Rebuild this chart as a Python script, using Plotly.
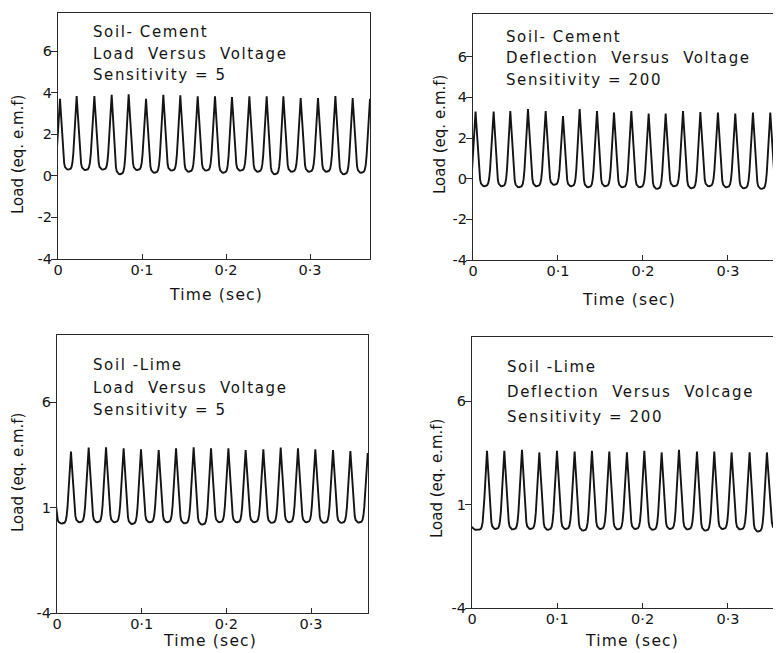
import plotly.graph_objects as go

# browser page places the figure 8px from the top-left corner (default body margin)
OFF = 8
W, H = 781 - OFF, 653 - OFF

def px(x):
    return (x - OFF) / W

def py(y):
    return 1 - (y - OFF) / H

# ---------------- data ----------------
# Soil-Cement, load versus voltage (sensitivity 5)
tl_peak_t = [-0.018, 0.0024, 0.0222, 0.0433, 0.0639, 0.0841, 0.1048, 0.1254, 0.1456, 0.1663,
             0.1869, 0.2071, 0.2278, 0.2484, 0.2683, 0.2889, 0.3095, 0.3302, 0.3508, 0.3714]
tl_peak_v = [3.8, 3.7, 3.84, 3.84, 3.9, 3.92, 3.7, 3.9, 3.87, 3.82,
             3.82, 3.79, 3.82, 3.82, 3.82, 3.74, 3.74, 3.84, 3.74, 3.7]
tl_trough_v = [0.3, 0.3, 0.28, 0.3, 0.08, 0.28, 0.15, 0.25, 0.2, 0.25,
               0.15, 0.25, 0.2, 0.08, 0.2, 0.2, 0.2, 0.08, 0.15]

# Soil-Cement, deflection versus voltage (sensitivity 200)
tr_peak_t = [-0.0174, 0.003, 0.0243, 0.0439, 0.0647, 0.0855, 0.1059, 0.1255, 0.1459, 0.1659,
             0.1863, 0.2067, 0.2267, 0.2471, 0.2675, 0.2882, 0.3086, 0.3294, 0.3498, 0.3702]
tr_peak_v = [3.3, 3.3, 3.3, 3.33, 3.42, 3.33, 3.08, 3.42, 3.33, 3.25,
             3.33, 3.2, 3.2, 3.33, 3.28, 3.25, 3.2, 3.25, 3.25, 3.25]
tr_trough_v = [-0.35, -0.37, -0.37, -0.42, -0.37, -0.3, -0.37, -0.42, -0.37, -0.42,
               -0.42, -0.5, -0.37, -0.47, -0.37, -0.42, -0.47, -0.5, -0.42]

# Soil-Lime, load versus voltage (sensitivity 5)
bl_peak_t = [-0.0042, 0.0165, 0.0374, 0.0579, 0.0787, 0.0992, 0.1201, 0.1406, 0.1614, 0.1819,
             0.2024, 0.2228, 0.2437, 0.2642, 0.2846, 0.3051, 0.326, 0.3465, 0.367]
bl_peak_v = [2.06, 3.66, 3.85, 3.87, 3.82, 3.77, 3.74, 3.82, 3.87, 3.82,
             3.82, 3.74, 3.77, 3.85, 3.82, 3.77, 3.74, 3.69, 3.6]
bl_trough_v = [0.25, 0.31, 0.31, 0.31, 0.23, 0.31, 0.31, 0.26, 0.2, 0.31,
               0.31, 0.31, 0.28, 0.31, 0.31, 0.28, 0.28, 0.3]

# Soil-Lime, deflection versus voltage (sensitivity 200)
br_peak_t = [-0.0028, 0.0176, 0.0379, 0.0586, 0.0789, 0.0996, 0.1203, 0.1406, 0.1609, 0.1816,
             0.202, 0.2223, 0.2426, 0.2637, 0.284, 0.3043, 0.3254, 0.3457, 0.369]
br_peak_v = [0.0, 3.6, 3.6, 3.65, 3.52, 3.6, 3.56, 3.6, 3.56, 3.52,
             3.6, 3.52, 3.65, 3.56, 3.56, 3.52, 3.52, 3.52, 3.55]
br_trough_v = [-0.22, -0.18, -0.2, -0.18, -0.22, -0.18, -0.26, -0.18, -0.2, -0.18,
               -0.22, -0.18, -0.2, -0.26, -0.18, -0.2, -0.3, -0.2]

x_tick_vals = [0, 0.1, 0.2, 0.3]
x_tick_text = ["0", "0·1", "0·2", "0·3"]
top_y_tick_vals = [-4, -2, 0, 2, 4, 6]
top_y_tick_text = ["-4", "-2", "0", "2", "4", "6"]
bot_y_tick_vals = [-4, 1, 6]
bot_y_tick_text = ["-4", "1", "6"]

x_title = "Time (sec)"
y_title = "Load (eq. e.m.f)"

tl_text = ["Soil- Cement", "Load  Versus  Voltage", "Sensitivity = 5"]
tr_text = ["Soil- Cement", "Deflection  Versus  Voltage", "Sensitivity = 200"]
bl_text = ["Soil -Lime", "Load  Versus  Voltage", "Sensitivity = 5"]
br_text = ["Soil -Lime", "Deflection  Versus  Volcage", "Sensitivity = 200"]

# pulse outline within one cycle (style of the trace: sharp peak, rounded trough)
shape_phase = [0, .04, .08, .12, .16, .20, .25, .30, .36, .43, .50, .57, .64, .70, .75, .80, .85, .90, .95, 1.0]
shape_frac = [1, .85, .68, .51, .35, .21, .09, .035, .012, .002, 0, .002, .012, .04, .10, .22, .40, .60, .80, 1]


def waveform(peak_t, peak_v, trough_v):
    t, v = [], []
    for k in range(len(peak_t) - 1):
        t0, t1 = peak_t[k], peak_t[k + 1]
        for ph, s in zip(shape_phase[:-1], shape_frac[:-1]):
            p = peak_v[k] if ph <= 0.5 else peak_v[k + 1]
            t.append(t0 + ph * (t1 - t0))
            v.append(trough_v[k] + (p - trough_v[k]) * s)
    t.append(peak_t[-1])
    v.append(peak_v[-1])
    return t, v


FONT = "DejaVu Sans"
INK = "#141414"


def spaced(s, ls):
    return '<span style="letter-spacing:%spx">%s</span>' % (ls, s)


panels = [
    dict(data=(tl_peak_t, tl_peak_v, tl_trough_v), box=(58, 370, 13, 259), xr=[0, 0.3714],
         yr=[-4, 7.83], yt=(top_y_tick_vals, top_y_tick_text), right=True,
         text=tl_text, tx=91, ty=[32, 54, 75], xl=(216, 295), yl=(18, 155)),
    dict(data=(tr_peak_t, tr_peak_v, tr_trough_v), box=(473, 781, 14, 260), xr=[0, 0.3624],
         yr=[-4, 8.1], yt=(top_y_tick_vals, top_y_tick_text), right=False,
         text=tr_text, tx=504, ty=[37, 58, 80], xl=(629, 300), yl=(440, 135)),
    dict(data=(bl_peak_t, bl_peak_v, bl_trough_v), box=(57, 368, 335, 613), xr=[0, 0.3673],
         yr=[-4, 9.2], yt=(bot_y_tick_vals, bot_y_tick_text), right=True,
         text=bl_text, tx=91, ty=[365, 388, 410], xl=(210, 641), yl=(18, 473)),
    dict(data=(br_peak_t, br_peak_v, br_trough_v), box=(472, 781, 337, 608), xr=[0, 0.3622],
         yr=[-4, 9.1], yt=(bot_y_tick_vals, bot_y_tick_text), right=False,
         text=br_text, tx=505, ty=[367, 392, 417], xl=(632, 641), yl=(437, 478)),
]

fig = go.Figure()
layout = dict(width=W, height=H, margin=dict(l=0, r=0, t=0, b=0, autoexpand=False),
              template="none",
              paper_bgcolor="white", plot_bgcolor="white", showlegend=False,
              font=dict(family=FONT, color=INK, size=14))
annotations = []

for i, p in enumerate(panels, start=1):
    sfx = "" if i == 1 else str(i)
    t, v = waveform(*p["data"])
    fig.add_trace(go.Scatter(x=t, y=v, mode="lines", xaxis="x" + sfx, yaxis="y" + sfx,
                             line=dict(color=INK, width=1.9), hoverinfo="skip"))
    x0, x1, y0, y1 = p["box"]
    layout["xaxis" + sfx] = dict(domain=[px(x0), px(x1)], range=p["xr"], anchor="y" + sfx,
                                 automargin=False,
                                 showline=True, linecolor="#2a2a2a", linewidth=1.4, mirror=True,
                                 ticks="inside", ticklen=5, tickwidth=1.3, tickcolor="#2a2a2a",
                                 tickvals=x_tick_vals, ticktext=x_tick_text, ticklabelstandoff=-3,
                                 showgrid=False, zeroline=False,
                                 tickfont=dict(size=14.5, family=FONT, color=INK))
    layout["yaxis" + sfx] = dict(domain=[py(y1), py(y0)], range=p["yr"], anchor="x" + sfx,
                                 automargin=False,
                                 showline=True, linecolor="#2a2a2a", linewidth=1.4,
                                 mirror=p["right"], ticks="outside", ticklen=6, tickwidth=1.3,
                                 tickcolor="#2a2a2a", tickvals=p["yt"][0], ticktext=p["yt"][1],
                                 ticklabelstandoff=-4,
                                 showgrid=False, zeroline=False,
                                 tickfont=dict(size=14.5, family=FONT, color=INK))
    for line, yy in zip(p["text"], p["ty"]):
        annotations.append(dict(text=spaced(line, 1.6), x=px(p["tx"]), y=py(yy), xref="paper",
                                yref="paper", xanchor="left", yanchor="middle", showarrow=False,
                                font=dict(size=15, family=FONT, color=INK)))
    annotations.append(dict(text=spaced(x_title, 1.2), x=px(p["xl"][0]), y=py(p["xl"][1]),
                            xref="paper", yref="paper", xanchor="center", yanchor="middle",
                            showarrow=False, font=dict(size=15.5, family=FONT, color=INK)))
    annotations.append(dict(text=y_title, x=px(p["yl"][0]), y=py(p["yl"][1]), xref="paper",
                            yref="paper", xanchor="center", yanchor="middle", showarrow=False,
                            textangle=-90, font=dict(size=15, family=FONT, color=INK)))

layout["annotations"] = annotations
fig.update_layout(**layout)
fig.write_html("out.html")
